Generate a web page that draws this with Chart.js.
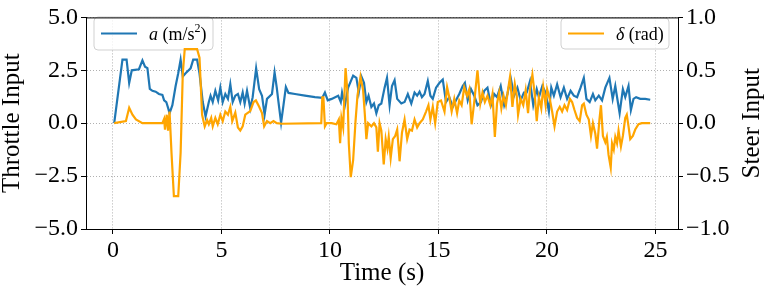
<!DOCTYPE html>
<html>
<head>
<meta charset="utf-8">
<script src="https://cdn.jsdelivr.net/npm/chart.js@4.4.1/dist/chart.umd.min.js"></script>
<style>
  html, body { margin: 0; padding: 0; background: #fff; }
  #wrap { width: 764px; height: 292px; }
</style>
</head>
<body>
<div id="wrap"><canvas id="chart" width="764" height="292"></canvas></div>
<script>
// acceleration a (m/s^2), left axis
const accelTime = [0.06,0.44,0.63,0.75,0.87,1.2,1.36,1.48,1.59,1.7,1.82,1.97,2.12,2.28,2.36,2.46,2.55,2.61,2.74,2.89,3.01,3.12,3.22,3.35,3.58,3.7,3.88,3.99,4.14,4.27,4.42,4.5,4.6,4.72,4.85,4.95,5.06,5.18,5.3,5.41,5.52,5.64,5.76,5.87,5.98,6.07,6.18,6.33,6.44,6.6,6.74,6.87,6.99,7.1,7.33,7.45,7.55,7.63,7.75,7.86,7.97,8.09,8.39,8.85,9.31,9.65,9.77,9.9,10.08,10.38,10.5,10.56,10.69,10.84,11.07,11.22,11.33,11.45,11.57,11.68,11.78,11.91,12.03,12.14,12.25,12.37,12.52,12.63,12.75,12.86,12.98,13.1,13.29,13.44,13.59,13.75,13.9,14.02,14.13,14.24,14.36,14.51,14.63,14.74,14.89,15.05,15.2,15.35,15.5,15.66,15.81,15.96,16.12,16.22,16.35,16.5,16.65,16.8,16.96,17.11,17.26,17.42,17.57,17.7,17.87,18.03,18.18,18.33,18.49,18.64,18.79,18.94,19.07,19.22,19.37,19.53,19.63,19.79,19.94,20.09,20.2,20.32,20.47,20.63,20.78,20.93,21.09,21.24,21.39,21.55,21.7,21.82,21.97,22.12,22.23,22.39,22.54,22.69,22.88,23.03,23.15,23.35,23.5,23.61,23.76,23.87,23.99,24.11,24.3,24.53,24.76];
const accelValues = [0,3.0,3.0,1.9,2.5,2.55,2.97,2.67,2.6,1.62,1.53,1.49,1.38,1.34,1.08,1.0,0.7,0.47,0.85,1.76,2.36,3.0,2.21,2.36,2.59,3.0,3.0,2.36,1.0,0.32,1.0,1.3,1.0,1.53,1.08,1.68,1.0,1.38,1.15,1.84,1.0,1.3,1.38,1.0,1.45,0.93,1.53,0.7,1.23,2.59,1.61,1.3,0.4,1.15,1.38,2.4,1.68,1.0,0.02,0.85,1.71,1.43,1.38,1.3,1.23,1.2,1.45,1.08,1.15,1.3,1.0,1.45,0.85,1.68,2.25,2.14,1.45,2.21,1.91,1.0,1.3,0.77,0.93,0.47,0.85,0.93,1.68,2.14,0.85,1.76,2.03,1.15,0.93,1.0,1.38,0.93,1.45,1.3,1.49,1.23,1.38,1.99,1.3,1.15,1.68,1.91,2.06,1.0,1.23,0.77,1.08,1.38,1.76,1.91,1.08,1.61,1.3,0.85,1.0,1.53,1.68,0.85,1.38,1.23,1.76,0.85,1.38,2.14,1.3,1.68,1.08,1.45,1.45,1.99,0.85,1.61,1.23,1.76,1.45,0.55,1.68,1.3,1.84,1.23,1.68,1.15,1.53,1.3,1.23,1.68,2.14,1.15,1.0,1.38,1.08,1.3,1.08,1.68,2.14,1.15,1.76,0.47,1.61,1.23,1.76,0.62,1.15,1.23,1.15,1.15,1.11];

// steering angle delta (rad), right axis
const steerTime = [0.06,0.6,0.75,0.9,1.06,1.36,2.28,2.36,2.4,2.48,2.54,2.61,2.7,2.81,3.01,3.12,3.22,3.31,3.88,3.99,4.11,4.23,4.34,4.42,4.53,4.6,4.72,4.83,4.95,5.06,5.18,5.3,5.41,5.5,5.64,5.76,5.87,5.98,6.1,6.33,6.48,6.59,6.74,6.87,6.97,7.1,7.25,7.4,7.55,7.78,9.6,9.65,9.7,9.77,9.85,10.08,10.3,10.41,10.47,10.53,10.61,10.72,10.81,10.87,10.96,11.07,11.18,11.27,11.41,11.53,11.61,11.68,11.76,11.91,12.03,12.14,12.21,12.29,12.37,12.48,12.57,12.65,12.71,12.8,12.9,13.01,13.1,13.21,13.32,13.44,13.56,13.67,13.78,13.9,14.02,14.13,14.28,14.43,14.54,14.63,14.74,14.85,14.97,15.12,15.28,15.4,15.5,15.61,15.73,15.86,15.96,16.07,16.19,16.32,16.42,16.53,16.65,16.72,16.8,16.93,17.03,17.14,17.26,17.39,17.49,17.6,17.7,17.8,17.9,18.0,18.11,18.21,18.3,18.41,18.52,18.61,18.67,18.79,18.91,19.02,19.13,19.22,19.33,19.43,19.53,19.63,19.74,19.83,19.94,20.01,20.13,20.24,20.35,20.47,20.59,20.7,20.81,20.93,21.06,21.16,21.27,21.39,21.51,21.62,21.7,21.82,21.93,22.03,22.12,22.23,22.31,22.42,22.49,22.58,22.69,22.76,22.84,22.94,23.0,23.08,23.15,23.23,23.3,23.41,23.5,23.61,23.68,23.76,23.84,23.96,24.07,24.22,24.37,24.76];
const steerValues = [0,0.02,0.145,0.08,0.035,0,0,0.04,-0.06,0.08,-0.07,0.11,-0.28,-0.69,-0.69,-0.28,0.47,0.7,0.7,0.62,0.08,-0.03,0.03,-0.01,0.05,-0.03,0.05,-0.01,0.08,0.02,0.11,0.08,0.155,0.02,0.1,-0.04,-0.07,-0.03,0.08,0.115,0.2,0.215,0.155,0.095,-0.03,0.02,0,0.02,0,-0.005,0,0.245,0.245,-0.03,0,0,-0.01,0.035,-0.19,0.05,-0.04,0.52,0.29,-0.19,-0.51,-0.35,0.02,0.26,0.44,0.31,0.08,-0.15,0,-0.03,0,-0.04,-0.27,0,-0.07,-0.39,-0.15,-0.24,-0.13,-0.33,-0.15,-0.12,-0.06,-0.36,-0.09,0.035,-0.15,-0.06,-0.07,0.035,-0.04,0,0.035,0.11,0.17,0.035,0.155,0,0.2,0.215,0.11,0.34,0.245,0.11,0.23,0.095,0.215,0.17,0.34,0.26,0.32,-0.01,0.2,0.34,0.5,0.185,0.29,0.2,0.26,0.17,0.275,-0.13,0.185,0.29,0.14,0.26,0.17,0.32,0.44,0.155,0.37,0.26,0.08,0.23,0.17,0.31,0.095,0.32,0.46,0.29,0.02,0.245,0.14,0.34,0.17,0.32,0.23,0.11,-0.03,0.11,0.155,0.11,0.17,0.125,0.23,0.2,0.125,0.05,0.02,0.17,0.185,0.08,0.035,-0.12,0,-0.1,-0.24,0.035,0.17,-0.12,-0.18,-0.13,-0.3,-0.42,-0.19,-0.25,-0.13,-0.19,-0.07,-0.22,-0.12,0.05,0.08,-0.03,-0.15,-0.12,-0.06,-0.01,0,0];

const timeTicks = [0, 5, 10, 15, 20, 25];
const BLUE = '#1f77b4';
const ORANGE = '#ffa500';
const SERIF = '"Liberation Serif", "Times New Roman", serif';
const LINE_W = 2.2;

function toPoints(xs, ys){
  return xs.map((x, i) => ({ x: x, y: ys[i] }));
}
function fmt(v){
  return v.toFixed(1).replace('-', '\u2212');
}

// legend box, matplotlib style
function legendBox(ctx, x, y, w, h, color, parts){
  ctx.save();
  ctx.beginPath();
  ctx.roundRect(x, y, w, h, 4);
  ctx.fillStyle = 'rgba(255,255,255,0.8)';
  ctx.fill();
  ctx.strokeStyle = 'rgba(204,204,204,0.9)';
  ctx.lineWidth = 1;
  ctx.stroke();
  ctx.beginPath();
  ctx.moveTo(x + 7, y + h / 2);
  ctx.lineTo(x + 43, y + h / 2);
  ctx.strokeStyle = color;
  ctx.lineWidth = LINE_W;
  ctx.stroke();
  let tx = x + 55;
  const base = y + h / 2 + 6;
  ctx.fillStyle = '#000';
  ctx.textBaseline = 'alphabetic';
  parts.forEach(p => {
    ctx.font = (p.italic ? 'italic ' : '') + p.size + 'px ' + SERIF;
    ctx.fillText(p.text, tx, base - (p.raise || 0));
    tx += ctx.measureText(p.text).width;
  });
  ctx.restore();
}

const decorPlugin = {
  id: 'decor',
  afterDatasetDraw(chart, args){
    // the a-legend sits under the steer line, like the twin axes in the original
    if (args.index !== 0) return;
    legendBox(chart.ctx, chart.chartArea.left + 8, 17, 119, 33, BLUE, [
      { text: 'a', size: 18, italic: true },
      { text: ' (m/s', size: 18 },
      { text: '2', size: 12, raise: 8 },
      { text: ')', size: 18 }
    ]);
  },
  afterDatasetsDraw(chart){
    const ctx = chart.ctx;
    const a = chart.chartArea;
    legendBox(ctx, 561, 18, 108, 31, ORANGE, [
      { text: '\u03b4', size: 18, italic: true },
      { text: ' (rad)', size: 18 }
    ]);
    ctx.save();
    ctx.strokeStyle = '#000';
    ctx.lineWidth = 1;
    ctx.strokeRect(a.left + 0.5, a.top + 0.5, a.right - a.left, a.bottom - a.top);
    // right axis title reads bottom to top in the original
    ctx.translate(752, (a.top + a.bottom) / 2);
    ctx.rotate(-Math.PI / 2);
    ctx.font = '25px ' + SERIF;
    ctx.fillStyle = '#000';
    ctx.textAlign = 'center';
    ctx.textBaseline = 'middle';
    ctx.fillText('Steer Input', 0, 0);
    ctx.restore();
  }
};

const gridDash = [1, 2];

new Chart(document.getElementById('chart'), {
  type: 'line',
  data: {
    datasets: [
      {
        label: 'a (m/s²)',
        data: toPoints(accelTime, accelValues),
        yAxisID: 'y',
        borderColor: BLUE,
        borderWidth: LINE_W,
        pointRadius: 0,
        order: 1
      },
      {
        label: 'δ (rad)',
        data: toPoints(steerTime, steerValues),
        yAxisID: 'y1',
        borderColor: ORANGE,
        borderWidth: LINE_W,
        pointRadius: 0,
        order: 0
      }
    ]
  },
  options: {
    responsive: false,
    animation: false,
    layout: { padding: { top: 9, left: 0, right: 0, bottom: 0 } },
    plugins: { legend: { display: false }, tooltip: { enabled: false } },
    scales: {
      x: {
        type: 'linear',
        min: -1.24,
        max: 26.04,
        afterBuildTicks: s => { s.ticks = timeTicks.map(v => ({ value: v })); },
        afterFit: s => { s.height = 63; },
        ticks: { color: '#000', font: { family: SERIF, size: 24 }, padding: 2, maxRotation: 0 },
        grid: { color: '#b0b0b0', tickColor: '#000', tickLength: 5 },
        border: { color: '#000', dash: gridDash },
        title: { display: true, text: 'Time (s)', color: '#000', font: { family: SERIF, size: 25, lineHeight: 1.2 }, padding: { top: 0, bottom: 4 } }
      },
      y: {
        position: 'left',
        min: -5,
        max: 5,
        ticks: { stepSize: 2.5, color: '#000', font: { family: SERIF, size: 24 }, padding: 3, callback: v => fmt(v) },
        afterFit: s => { s.width = 86; },
        grid: { color: '#b0b0b0', tickColor: '#000', tickLength: 5 },
        border: { color: '#000', dash: gridDash },
        title: { display: true, text: 'Throttle Input', color: '#000', font: { family: SERIF, size: 25, lineHeight: 1.0 }, padding: { top: 0, bottom: 0 } }
      },
      y1: {
        position: 'right',
        min: -1,
        max: 1,
        ticks: { stepSize: 0.5, color: '#000', font: { family: SERIF, size: 24 }, padding: 3, callback: v => fmt(v) },
        afterFit: s => { s.width = 86; },
        grid: { drawOnChartArea: false, color: '#000', tickColor: '#000', tickLength: 5 },
        border: { color: '#000' }
      }
    }
  },
  plugins: [decorPlugin]
});
</script>
</body>
</html>
